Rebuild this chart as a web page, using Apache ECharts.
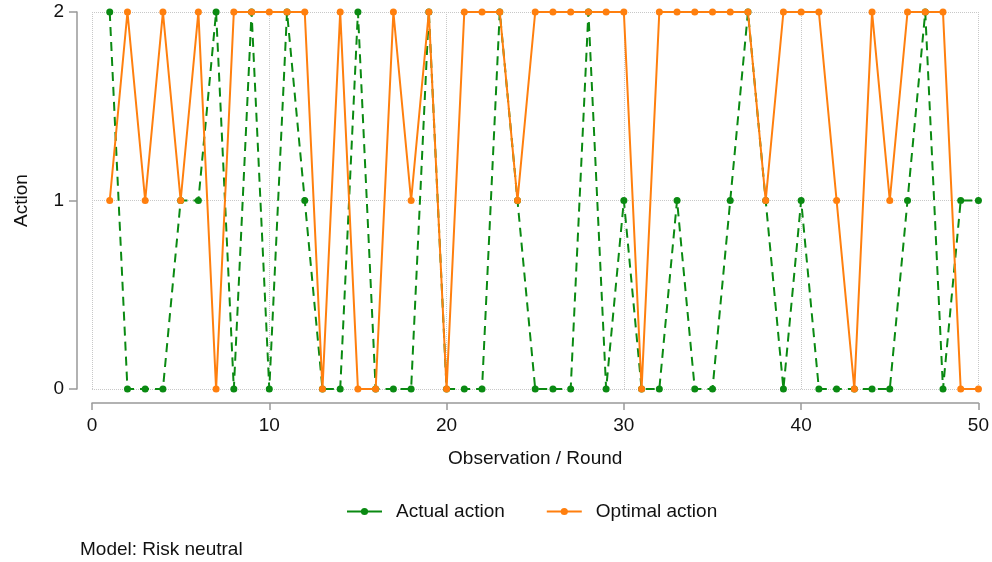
<!DOCTYPE html>
<html>
<head>
<meta charset="utf-8">
<script src="https://cdn.jsdelivr.net/npm/echarts@6/dist/echarts.min.js"></script>
<style>html,body{margin:0;padding:0;background:#fff}#c{width:992px;height:562px}</style>
</head>
<body>
<div id="c"></div>
<script>
const rounds = Array.from({length: 50}, (_, i) => i + 1);
const actualAction = [2,0,0,0,1,1,2,0,2,0, 2,1,0,0,2,0,0,0,2,0, 0,0,2,1,0,0,0,2,0,1, 0,0,1,0,0,1,2,1,0,1, 0,0,0,0,0,1,2,0,1,1];
const optimalAction = [1,2,1,2,1,2,0,2,2,2, 2,2,0,2,0,0,2,1,2,0, 2,2,2,1,2,2,2,2,2,2, 0,2,2,2,2,2,2,1,2,2, 2,1,0,2,1,2,2,2,0,0];
const xTicks = [0,10,20,30,40,50];
const yTicks = [0,1,2];

const GREEN = '#0a8a12';
const ORANGE = '#ff7f0e';
const FONT = 'Liberation Sans, Arial, sans-serif';
const FS = 19;

const chart = echarts.init(document.getElementById('c'));
chart.setOption({
  animation: false,
  backgroundColor: '#fff',
  textStyle: {fontFamily: FONT},
  grid: {left: 92, right: 13, top: 12, bottom: 173, containLabel: false},
  xAxis: {
    type: 'value', min: 0, max: 50, interval: 10, offset: 14,
    name: 'Observation / Round', nameLocation: 'middle', nameGap: 46,
    nameTextStyle: {fontSize: FS, color: '#111', fontFamily: FONT},
    axisLine: {show: true, onZero: false, lineStyle: {color: '#999', width: 1.5}},
    axisTick: {show: true, length: 7, lineStyle: {color: '#999', width: 1.5}},
    axisLabel: {fontSize: FS, color: '#111', margin: 13, fontFamily: FONT,
      formatter: v => xTicks.includes(v) ? String(v) : ''},
    splitLine: {show: true, lineStyle: {color: '#c8c8c8', type: 'dotted', width: 1}}
  },
  yAxis: {
    type: 'value', min: 0, max: 2, interval: 1, offset: 15,
    name: 'Action', nameLocation: 'middle', nameGap: 46, nameRotate: 90,
    nameTextStyle: {fontSize: FS, color: '#111', fontFamily: FONT},
    axisLine: {show: true, onZero: false, lineStyle: {color: '#999', width: 1.5}},
    axisTick: {show: true, length: 8, lineStyle: {color: '#999', width: 1.5}},
    axisLabel: {fontSize: FS, color: '#111', margin: 13, fontFamily: FONT,
      formatter: v => yTicks.includes(v) ? String(v) : ''},
    splitLine: {show: true, lineStyle: {color: '#c8c8c8', type: 'dotted', width: 1}}
  },
  legend: {
    top: 497, left: 341, itemGap: 41, itemWidth: 35, itemHeight: 9,
    lineStyle: {type: 'solid', width: 2},
    textStyle: {fontSize: FS, color: '#111', fontFamily: FONT, padding: [0, 0, 0, 9]},
    data: ['Actual action', 'Optimal action']
  },
  graphic: [{
    type: 'text', left: 80, top: 540,
    style: {text: 'Model: Risk neutral', fontSize: FS, fill: '#111', fontFamily: FONT}
  }],
  series: [
    {
      name: 'Actual action', type: 'line',
      data: rounds.map((r, i) => [r, actualAction[i]]),
      symbol: 'circle', symbolSize: 7,
      itemStyle: {color: GREEN},
      lineStyle: {color: GREEN, width: 2, type: [9, 6]},
      z: 2
    },
    {
      name: 'Optimal action', type: 'line',
      data: rounds.map((r, i) => [r, optimalAction[i]]),
      symbol: 'circle', symbolSize: 7,
      itemStyle: {color: ORANGE},
      lineStyle: {color: ORANGE, width: 2},
      z: 3
    }
  ]
});
</script>
</body>
</html>
